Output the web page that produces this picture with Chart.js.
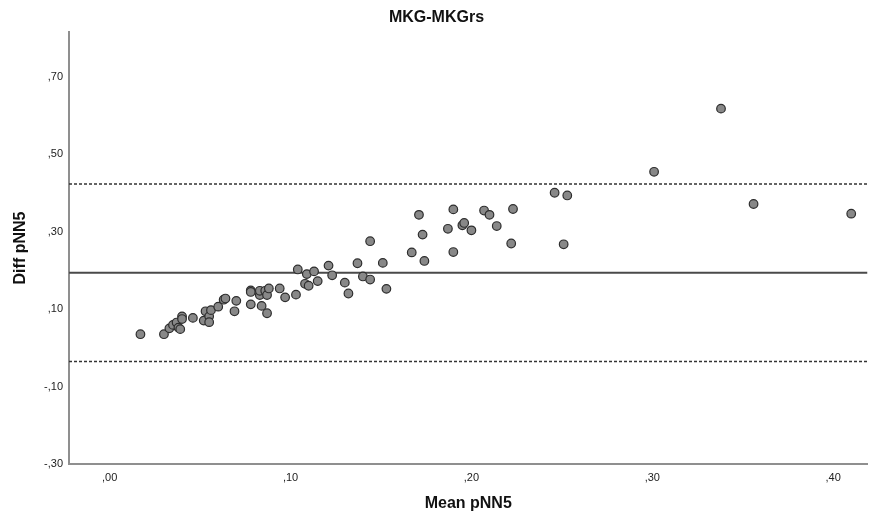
<!DOCTYPE html>
<html>
<head>
<meta charset="utf-8">
<title>MKG-MKGrs</title>
<script src="https://cdn.jsdelivr.net/npm/chart.js@4/dist/chart.umd.min.js"></script>
<style>
  html, body { margin: 0; padding: 0; background: #ffffff; }
  #wrap { width: 873px; height: 519px; }
</style>
</head>
<body>
<div id="wrap"><canvas id="blandAltman" width="873" height="519"></canvas></div>
<script>
'use strict';
/* ------------------------------------------------------------ DATA */
const meanPNN5 = [
  0.017, 0.030, 0.033, 0.035, 0.037, 0.038, 0.039, 0.040, 0.040, 0.046,
  0.052, 0.053, 0.055, 0.055, 0.056, 0.060, 0.063, 0.064, 0.069, 0.070,
  0.078, 0.078, 0.078, 0.083, 0.083, 0.084, 0.086, 0.087, 0.087, 0.088,
  0.094, 0.097, 0.103, 0.104, 0.108, 0.109, 0.110, 0.113, 0.115, 0.121,
  0.123, 0.130, 0.132, 0.137, 0.140, 0.144, 0.144, 0.151, 0.153, 0.167,
  0.171, 0.173, 0.174, 0.187, 0.190, 0.190, 0.195, 0.196, 0.200, 0.207,
  0.210, 0.214, 0.222, 0.223, 0.246, 0.251, 0.253, 0.301, 0.338, 0.356,
  0.410
];
//x values (mean of the two methods)

const diffPNN5 = [
  0.035, 0.035, 0.050, 0.059, 0.065, 0.052, 0.048, 0.081, 0.074, 0.077,
  0.070, 0.094, 0.081, 0.066, 0.097, 0.106, 0.124, 0.127, 0.094, 0.121,
  0.148, 0.144, 0.112, 0.136, 0.147, 0.108, 0.147, 0.136, 0.089, 0.153,
  0.153, 0.130, 0.137, 0.202, 0.165, 0.190, 0.160, 0.197, 0.172, 0.212,
  0.187, 0.168, 0.140, 0.218, 0.184, 0.275, 0.176, 0.219, 0.152, 0.246,
  0.343, 0.292, 0.224, 0.307, 0.357, 0.247, 0.316, 0.322, 0.303, 0.354,
  0.343, 0.314, 0.269, 0.358, 0.400, 0.267, 0.393, 0.454, 0.617, 0.371,
  0.346
];
//y values (difference of the two methods)

const meanDiff = 0.1935;
const upperLimit = 0.4225;
const lowerLimit = -0.0353;
//mean difference and limits of agreement

const xTicks = [0, 0.1, 0.2, 0.3, 0.4];
const yTicks = [-0.3, -0.1, 0.1, 0.3, 0.5, 0.7];
const xRange = [-0.0225, 0.419];
const yRange = [-0.3, 0.8148];

/* ------------------------------------------------------------ HELPERS */
function spssLabel(v){
  return v.toFixed(2).replace('0.', ',');
}
//0.10 -> ,10 and -0.10 -> -,10

function hLine(value){
  return [{x: xRange[0], y: value}, {x: xRange[1], y: value}];
}

const points = meanPNN5.map((m, i) => ({x: m, y: diffPNN5[i]}));

const fontFamily = '"Liberation Sans", Arial, sans-serif';

const titlePlugin = {
  id: 'spssTitle',
  afterDraw(chart){
    const ctx = chart.ctx;
    ctx.save();
    ctx.fillStyle = '#111';
    ctx.font = 'bold 16px ' + fontFamily;
    ctx.textAlign = 'center';
    ctx.textBaseline = 'middle';
    ctx.fillText('MKG-MKGrs', chart.width / 2, 18);
    ctx.restore();
  }
};
//chart title centred on the whole canvas, as SPSS does

/* ------------------------------------------------------------ CHART */
new Chart(document.getElementById('blandAltman'), {
  type: 'scatter',
  data: {
    datasets: [{
      data: points,
      backgroundColor: '#888888',
      borderColor: '#2e2e2e',
      borderWidth: 1.2,
      pointRadius: 4.3,
      order: 0
    }, {
      type: 'line',
      data: hLine(meanDiff),
      borderColor: '#4a4a4a',
      borderWidth: 2,
      pointRadius: 0,
      order: 1
    }, {
      type: 'line',
      data: hLine(upperLimit),
      borderColor: '#333333',
      borderWidth: 1.5,
      borderDash: [3, 2],
      pointRadius: 0,
      order: 1
    }, {
      type: 'line',
      data: hLine(lowerLimit),
      borderColor: '#333333',
      borderWidth: 1.5,
      borderDash: [3, 2],
      pointRadius: 0,
      order: 1
    }]
  },
  options: {
    responsive: false,
    animation: false,
    layout: { padding: { top: 32, right: 1, left: 0, bottom: 0 } },
    plugins: {
      legend: { display: false },
      tooltip: { enabled: false }
    },
    scales: {
      x: {
        type: 'linear',
        min: xRange[0],
        max: xRange[1],
        afterBuildTicks: (s) => { s.ticks = xTicks.map(v => ({value: v})); },
        afterFit: (s) => { s.height = 55; },
        grid: { display: false, drawTicks: false },
        border: { display: true, color: '#8f8f8f', width: 2 },
        ticks: {
          padding: 7,
          color: '#222',
          font: { family: fontFamily, size: 11 },
          callback: (v) => spssLabel(v)
        },
        title: {
          display: true,
          text: 'Mean pNN5',
          color: '#111',
          padding: { top: 0, bottom: 6 },
          font: { family: fontFamily, size: 16, weight: 'bold' }
        }
      },
      y: {
        type: 'linear',
        min: yRange[0],
        max: yRange[1],
        afterBuildTicks: (s) => { s.ticks = yTicks.map(v => ({value: v})); },
        afterFit: (s) => { s.width = 69; },
        grid: { display: false, drawTicks: false },
        border: { display: true, color: '#8f8f8f', width: 2 },
        ticks: {
          padding: 6,
          color: '#222',
          font: { family: fontFamily, size: 11 },
          callback: (v) => spssLabel(v)
        },
        title: {
          display: true,
          text: 'Diff pNN5',
          color: '#111',
          padding: { top: 11, bottom: 0 },
          font: { family: fontFamily, size: 16, weight: 'bold' }
        }
      }
    }
  },
  plugins: [titlePlugin]
});
</script>
</body>
</html>
